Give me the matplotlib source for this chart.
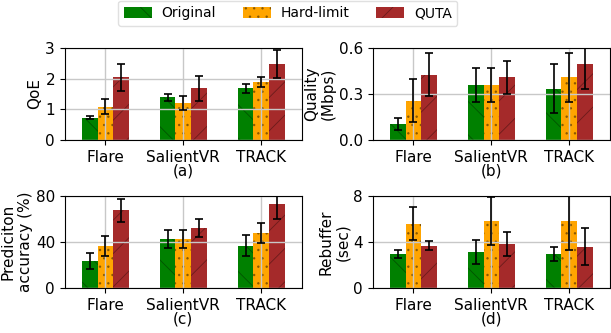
import numpy as np
import matplotlib
matplotlib.use("Agg")
from matplotlib import pyplot as plt

groups = ["Flare", "SalientVR", "TRACK"]
methods = ["Original", "Hard-limit", "QUTA"]

# panel (a) QoE
qoe = [[0.73, 1.39, 1.68], [1.09, 1.20, 1.88], [2.04, 1.68, 2.48]]
qoe_err = [[0.05, 0.12, 0.16], [0.24, 0.22, 0.16], [0.45, 0.41, 0.46]]
# panel (b) quality
quality = [[0.106, 0.358, 0.333], [0.255, 0.358, 0.408], [0.425, 0.408, 0.495]]
quality_err = [[0.04, 0.11, 0.16], [0.14, 0.11, 0.16], [0.14, 0.11, 0.16]]
# panel (c) prediction accuracy
accuracy = [[23.9, 42.6, 36.8], [36.5, 42.6, 47.8], [67.6, 52.0, 72.8]]
accuracy_err = [[7, 8, 9], [9, 8, 9], [10, 8, 13]]
# panel (d) rebuffer
rebuffer = [[2.96, 3.14, 2.96], [5.6, 5.81, 5.84], [3.68, 3.83, 3.6]]
rebuffer_err = [[0.37, 1.07, 0.6], [1.42, 2.08, 2.5], [0.38, 1.07, 1.6]]

colors = ["green", "orange", "#a52a2a"]
hatches = ["\\", "..", "/"]

plt.rcParams["hatch.linewidth"] = 0.6

fig, axes = plt.subplots(2, 2, figsize=(6.11, 3.33), dpi=100)
fig.subplots_adjust(left=0.106, right=0.998, top=0.856, bottom=0.135,
                    wspace=0.3, hspace=0.61)

panels = [
    (axes[0, 0], qoe, qoe_err, "QoE", [0, 1, 2, 3], 3, "(a)", "%g"),
    (axes[0, 1], quality, quality_err, "Quality\n(Mbps)", [0.0, 0.3, 0.6], 0.6, "(b)", "%.1f"),
    (axes[1, 0], accuracy, accuracy_err, "Prediciton\naccuracy (%)", [0, 40, 80], 80, "(c)", "%g"),
    (axes[1, 1], rebuffer, rebuffer_err, "Rebuffer\n(sec)", [0, 4, 8], 8, "(d)", "%g"),
]

x = np.arange(len(groups))
w = 0.2
handles = []
for ax, vals, errs, ylab, yt, ymax, sub, fmt in panels:
    for i in range(3):
        b = ax.bar(x + (i - 1) * w, vals[i], w, color=colors[i], hatch=hatches[i],
                   edgecolor=(0, 0, 0, 0.35), linewidth=0, label=methods[i])
        ax.errorbar(x + (i - 1) * w, vals[i], yerr=errs[i], fmt="none",
                    ecolor="black", elinewidth=1.2, capsize=3, capthick=1.2)
        if ax is axes[0, 0]:
            handles.append(b)
    ax.set_xlim(-0.52, 2.52)
    ax.set_ylim(0, ymax)
    ax.set_yticks(yt)
    ax.set_yticklabels([fmt % t for t in yt])
    ax.set_xticks(x)
    ax.set_xticklabels(groups)
    ax.tick_params(labelsize=11)
    ax.set_ylabel(ylab, fontsize=11, labelpad=2)
    ax.set_xlabel(sub, fontsize=11, labelpad=-1)
    ax.grid(True, color="#c8c8c8", linewidth=1)

fig.legend(handles, methods, loc="upper center", bbox_to_anchor=(0.471, 0.998),
           borderaxespad=0, ncol=3, fontsize=10, handlelength=2.0,
           handleheight=0.85, handletextpad=0.7, columnspacing=1.95,
           framealpha=1, edgecolor="#e0e0e0")

plt.savefig("out.png", dpi=100)
